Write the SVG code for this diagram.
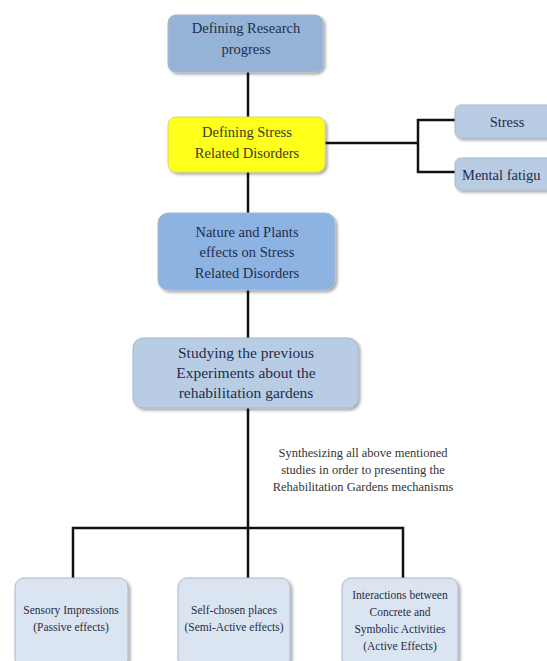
<svg xmlns="http://www.w3.org/2000/svg" width="547" height="661" viewBox="0 0 547 661">
<defs>
<filter id="sh" x="-10%" y="-10%" width="125%" height="130%">
<feGaussianBlur in="SourceAlpha" stdDeviation="1.5"/>
<feOffset dx="1.5" dy="2" result="o"/>
<feComponentTransfer><feFuncA type="linear" slope="0.35"/></feComponentTransfer>
<feMerge><feMergeNode/><feMergeNode in="SourceGraphic"/></feMerge>
</filter>
<style>
.box{stroke:#a9b8cc;stroke-width:1;filter:url(#sh)}
.b1{fill:#95b3d7}
.b2{fill:#8db3e2}
.b3{fill:#b8cce4}
.b4{fill:#dbe5f1}
.y{fill:#ffff1a;stroke:#d8d860}
.t{font-family:"Liberation Serif","Times New Roman",serif;fill:#1f2d4a;text-anchor:middle}
.ty{fill:#3a3a25}
.s14{font-size:14.5px}
.s15{font-size:15.5px}
.s13{font-size:14.5px}
.s11{font-size:11.5px}
.s10{font-size:12.5px}
.c{fill:none;stroke:#111;stroke-width:2.5}
</style>
</defs>
<rect width="547" height="661" fill="#fff"/>
<g id="connectors">
<path class="c" d="M248 72 V117"/>
<path class="c" d="M248 172 V213"/>
<path class="c" d="M248 290 V338"/>
<path class="c" d="M248 408 V528"/>
<path class="c" d="M73 578 V528 H403 V578"/>
<path class="c" d="M248 528 V578"/>
<path class="c" d="M325 143 H418"/>
<path class="c" d="M455 120 H418 V172 H455"/>
</g>
<g id="n1">
<rect class="box b1" x="168" y="15" width="155" height="57" rx="8"/>
<text class="t s14" x="246" y="33">Defining Research</text>
<text class="t s14" x="246" y="54">progress</text>
</g>
<g id="n2">
<rect class="box y" x="168" y="117" width="157" height="55" rx="8"/>
<text class="t ty s14" x="247" y="137">Defining Stress</text>
<text class="t ty s14" x="247" y="158">Related Disorders</text>
</g>
<g id="n_stress">
<rect class="box b3" x="455" y="105" width="100" height="33" rx="6"/>
<text class="t s13" x="507" y="127">Stress</text>
</g>
<g id="n_mental">
<rect class="box b3" x="455" y="158" width="100" height="32" rx="6"/>
<text class="t s13" x="462" y="180" style="text-anchor:start">Mental fatigu</text>
</g>
<g id="n3">
<rect class="box b2" x="158" y="213" width="177" height="77" rx="10"/>
<text class="t s14" x="247" y="237">Nature and Plants</text>
<text class="t s14" x="247" y="257">effects on Stress</text>
<text class="t s14" x="247" y="278">Related Disorders</text>
</g>
<g id="n4">
<rect class="box b3" x="133" y="338" width="225" height="70" rx="10"/>
<text class="t s15" x="246" y="358">Studying the previous</text>
<text class="t s15" x="246" y="378">Experiments about the</text>
<text class="t s15" x="246" y="398">rehabilitation gardens</text>
</g>
<g id="label">
<text class="t s10" x="363" y="457" style="fill:#333">Synthesizing all above mentioned</text>
<text class="t s10" x="363" y="474" style="fill:#333">studies in order to presenting the</text>
<text class="t s10" x="363" y="491" style="fill:#333">Rehabilitation Gardens mechanisms</text>
</g>
<g id="n5">
<rect class="box b4" x="15" y="578" width="113" height="90" rx="9"/>
<text class="t s11" x="71" y="614">Sensory Impressions</text>
<text class="t s11" x="71" y="631">(Passive effects)</text>
</g>
<g id="n6">
<rect class="box b4" x="178" y="578" width="112" height="90" rx="9"/>
<text class="t s11" x="234" y="614">Self-chosen places</text>
<text class="t s11" x="234" y="631">(Semi-Active effects)</text>
</g>
<g id="n7">
<rect class="box b4" x="342" y="578" width="116" height="90" rx="9"/>
<text class="t s11" x="400" y="599">Interactions between</text>
<text class="t s11" x="400" y="616">Concrete and</text>
<text class="t s11" x="400" y="633">Symbolic Activities</text>
<text class="t s11" x="400" y="650">(Active Effects)</text>
</g>
</svg>
